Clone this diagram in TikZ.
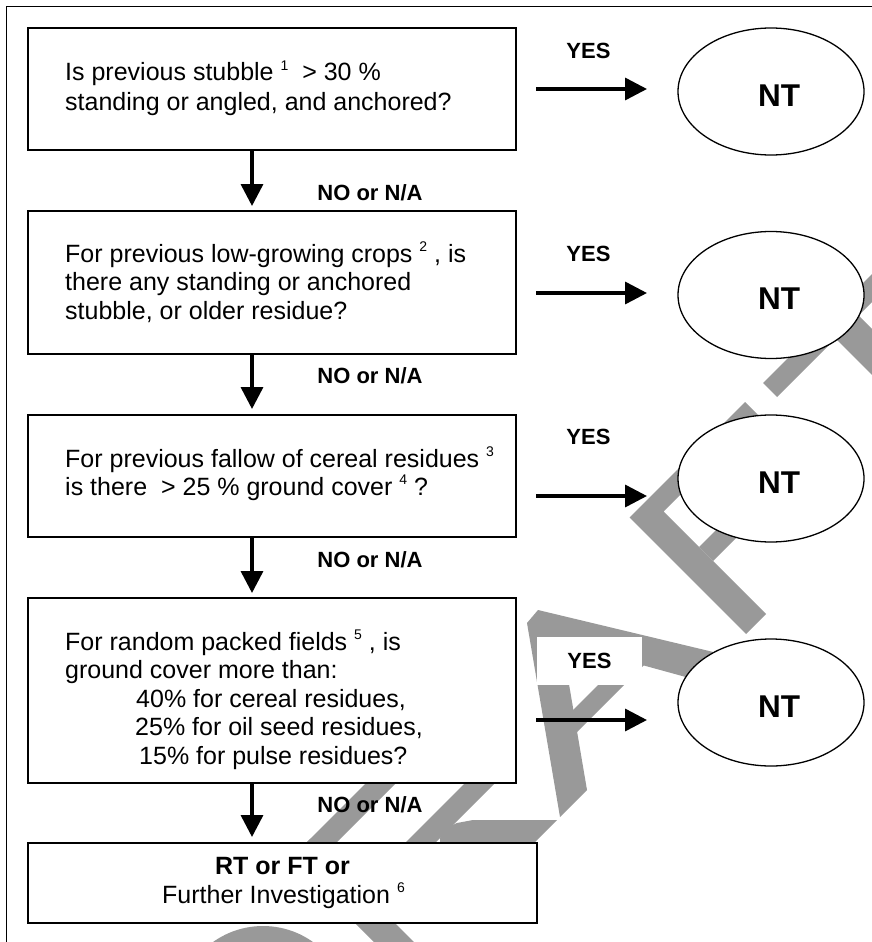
\documentclass[tikz,border=0pt]{standalone}
\usepackage{fontspec}
\setmainfont{Liberation Sans}
\usetikzlibrary{arrows.meta,shapes.geometric}
\definecolor{wmgray}{RGB}{153,153,153}
\newcommand\supn[1]{\raisebox{10.5pt}{\fontsize{14}{14}\selectfont #1}}
\begin{document}
\begin{tikzpicture}[x=1pt,y=-1pt,
  box/.style={draw=black,line width=1.6pt,fill=white,rectangle,inner sep=0pt,outer sep=0pt,minimum width=488pt},
  ell/.style={draw=black,line width=1.3pt,fill=white,ellipse,inner sep=0pt,outer sep=0pt,minimum width=186pt,minimum height=127pt},
  txt/.style={inner sep=0pt,anchor=base west,font=\fontsize{25}{29}\selectfont},
  ctxt/.style={inner sep=0pt,anchor=base,font=\fontsize{25}{29}\selectfont},
  lab/.style={inner sep=0pt,font=\bfseries\fontsize{22}{26}\selectfont},
  ntx/.style={inner sep=0pt,font=\bfseries\fontsize{31.5}{36}\selectfont},
  rarr/.style={line width=3.5pt,-{Triangle[length=22pt,width=22pt]}},
  wm/.style={fill=wmgray,draw=none}]
\useasboundingbox (0,0) rectangle (872,942);
\clip (0,0) rectangle (872,942);
\fill[white] (0,0) rectangle (872,942);
% outer frame
\draw[line width=1.3pt] (6.5,960) -- (6.5,6.5) -- (890,6.5);
% ---- watermark ----
% T
\fill[wm] (763,383) -- (903,243) -- (917,257) -- (777,397) -- cycle;
\fill[wm] (828.5,331.5) -- (851.5,308.5) -- (971.5,428.5) -- (948.5,451.5) -- cycle;
% F
\fill[wm] (629.5,517.5) -- (745,402) -- (759,416) -- (663.5,511.5) -- (766,614) -- (746,634) -- cycle;
\fill[wm] (699,547) -- (753,493) -- (767,507) -- (713,561) -- cycle;
% A
\fill[wm] (527,623) -- (538,610) -- (730,656) -- (704,682) -- (562,643) -- (587,790) -- (560,817) -- cycle;
\fill[wm] (556.5,726.5) -- (631.5,651.5) -- (644.5,664.5) -- (569.5,739.5) -- cycle;
% R
\fill[wm] (290.5,858.5) -- (310.5,838.5) -- (424.5,952.5) -- (404.5,972.5) -- cycle;
\fill[wm] (290.5,858.5) -- (409.5,739.5) -- (424.5,754.5) -- (305.5,873.5) -- cycle;
\fill[wm] (340,908) -- (496.5,751.5) -- (511.5,766.5) -- (355,923) -- cycle;
\fill[wm] (440,838) -- (446,828) -- (457,823) -- (473,820) -- (557,820) -- (527,850) -- (440,850) -- cycle;
% D
\fill[wm] (263,1012) circle[radius=86];
% ---- boxes ----
\node[box,minimum height=122pt] (q1) at (272,89) {};
\node[box,minimum height=143pt] (q2) at (272,282.5) {};
\node[box,minimum height=122pt] (q3) at (272,476) {};
\node[box,minimum height=185pt] (q4) at (272,690.5) {};
\node[box,minimum width=509pt,minimum height=80pt] (q5) at (282.5,883) {};
% ---- ellipses ----
\node[ell] (e1) at (771,91.5) {};
\node[ell] (e2) at (771,295) {};
\node[ell] (e3) at (771,478.5) {};
\node[ell] (e4) at (771,702.5) {};
\node[ntx] (nt1) at (779,95.5) {NT};
\node[ntx] (nt2) at (779,299) {NT};
\node[ntx] (nt3) at (779,482.5) {NT};
\node[ntx] (nt4) at (779,706.5) {NT};
% ---- box texts ----
\node[txt] (t11) at (65,81) {Is previous stubble \supn{1}\ \ > 30 \%};
\node[txt] (t12) at (65,110) {standing or angled, and anchored?};
\node[txt] (t21) at (65,262) {For previous low-growing crops \supn{2} , is};
\node[txt] (t22) at (65,290.5) {there any standing or anchored};
\node[txt] (t23) at (65,319) {stubble, or older residue?};
\node[txt] (t31) at (65,467) {For previous fallow of cereal residues \supn{3}};
\node[txt] (t32) at (65,495) {is there\ \ > 25 \% ground cover \supn{4} ?};
\node[txt] (t41) at (65,650) {For random packed fields \supn{5} , is};
\node[txt] (t42) at (65,678.5) {ground cover more than:};
\node[txt] (t43) at (136,707) {40\% for cereal residues,};
\node[txt] (t44) at (135,735.5) {25\% for oil seed residues,};
\node[txt] (t45) at (139,764) {15\% for pulse residues?};
\node[ctxt,font=\bfseries\fontsize{25}{29}\selectfont] (t51) at (282.5,874) {RT or FT or};
\node[ctxt] (t52) at (283.5,903) {Further Investigation \supn{6}};
% ---- YES / NO labels ----
\node[lab] (y1) at (588.5,50.5) {YES};
\node[lab] (y2) at (588.5,253.5) {YES};
\node[lab] (y3) at (588.5,436.5) {YES};
\node[lab,fill=white,minimum width=105pt,minimum height=48pt] (y4) at (589.5,661) {YES};
\node[lab] (n1) at (370,192.5) {NO or N/A};
\node[lab] (n2) at (370,375.5) {NO or N/A};
\node[lab] (n3) at (370,560) {NO or N/A};
\node[lab] (n4) at (370,804.5) {NO or N/A};
% ---- arrows ----
\coordinate (r1) at (0,89);
\coordinate (r2) at (0,293);
\coordinate (r3) at (0,496);
\coordinate (r4) at (0,720);
\draw[rarr] ([xshift=20pt]q1.east |- r1) -- ([xshift=-31pt]e1.west |- r1);
\draw[rarr] ([xshift=20pt]q2.east |- r2) -- ([xshift=-31pt]e2.west |- r2);
\draw[rarr] ([xshift=20pt]q3.east |- r3) -- ([xshift=-31pt]e3.west |- r3);
\draw[rarr] ([xshift=20pt]q4.east |- r4) -- ([xshift=-31pt]e4.west |- r4);
\draw[rarr] ([xshift=-20pt]q1.south) -- ([xshift=-20pt,yshift=5pt]q2.north);
\draw[rarr] ([xshift=-20pt]q2.south) -- ([xshift=-20pt,yshift=6pt]q3.north);
\draw[rarr] ([xshift=-20pt]q3.south) -- ([xshift=-20pt,yshift=5pt]q4.north);
\draw[rarr] ([xshift=-20pt]q4.south) -- ([xshift=-30.5pt,yshift=6pt]q5.north);
\end{tikzpicture}
\end{document}
